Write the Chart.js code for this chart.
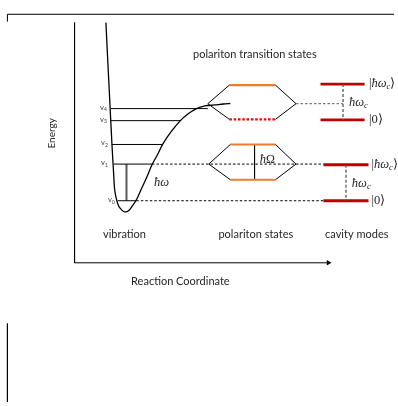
<!DOCTYPE html>
<html>
<head>
<meta charset="utf-8">
<script src="https://cdn.jsdelivr.net/npm/chart.js@4/dist/chart.umd.min.js"></script>
<style>
html,body{margin:0;padding:0;background:#fff;}
canvas{display:block;}
</style>
</head>
<body>
<canvas id="c" width="398" height="406"></canvas>
<script>
// ---- Diagram data (diagram units: x = reaction coordinate, y = energy, top-down) ----
const curveX = [104,106,108,110,112,113,115,117,120,123,127,131,135,140,146,151,157,162,170,180,188,196,205,215,224,231];
const curveY = [19,60,100,140,175,190,200,206,210,212,211,206,200,189,176,164,153,143,131,119,112,107,104,103,102,101.5];

const levelNames = ['0','1','2','3','4'];
const levelY = [200.7, 163.3, 143.3, 119, 106.7];
const levelStartX = [116, 112, 110, 109, 109];
const levelEndX = [135, 151, 162, 180, 208];
const levelLabelX = [113, 106, 106, 105, 105];

// dashed continuation of v0 / v1
const dashV1 = [151, 326];
const dashV0 = [135, 326];

// polariton states (lower hexagon)
const polLow = {left: 209, right: 298, mid: 163.3, x1: 231, x2: 277, up: 143.3, lo: 179.3};
// polariton transition states (upper hexagon)
const polHigh = {left: 208, right: 298, mid: 101.7, x1: 230, x2: 277, up: 82.7, lo: 117.7};
// cavity modes
const cavLow = {x1: 326, x2: 372, up: 164, lo: 200.7, vx: 349};
const cavHigh = {x1: 323, x2: 368, up: 81.7, lo: 118.3, vx: 346};

const axisOrigin = [72, 264];
const axisTopY = 19;
const axisEndX = 331;

const texts = [
  {t: 'polariton transition states', x: 256, y: 51},
  {t: 'vibration', x: 123, y: 235},
  {t: 'polariton states', x: 257, y: 235},
  {t: 'cavity modes', x: 360, y: 235},
  {t: 'Reaction Coordinate', x: 180, y: 283},
];

// ---- helpers ----
const P = (x, y) => ({x, y});
function seg(points, color, width, dash) {
  return {
    data: points, showLine: true, pointRadius: 0, borderColor: color,
    borderWidth: width, borderDash: dash || [], fill: false, tension: 0,
    borderCapStyle: 'butt'
  };
}
const BLACK = '#000';
const ORANGE = '#ED7D31';
const DRED = '#C00000';
const GRAY = '#595959';

const datasets = [];
// frame
datasets.push(seg([P(3.5, 18), P(3.5, 10.5), P(398, 10.5)], BLACK, 1));
datasets.push(seg([P(3.5, 326), P(3.5, 406)], BLACK, 1));
// axes
datasets.push(seg([P(axisOrigin[0], axisTopY), P(axisOrigin[0], axisOrigin[1]), P(axisEndX, axisOrigin[1])], BLACK, 1));
datasets.push({data: [P(axisEndX, axisOrigin[1])], showLine: false, pointStyle: 'triangle', rotation: 90,
  pointRadius: 3.2, backgroundColor: BLACK, borderColor: BLACK, borderWidth: 0});
// potential curve
datasets.push({data: curveX.map((x, i) => P(x, curveY[i])), showLine: true, pointRadius: 0,
  borderColor: BLACK, borderWidth: 1.3, tension: 0.35, fill: false});
// vibrational levels
levelY.forEach((yv, i) => datasets.push(seg([P(levelStartX[i], yv), P(levelEndX[i], yv)], BLACK, 1)));
datasets.push(seg([P(dashV1[0], levelY[1]), P(dashV1[1], levelY[1])], BLACK, 1, [2.5, 2]));
datasets.push(seg([P(dashV0[0], levelY[0]), P(dashV0[1], levelY[0])], BLACK, 1, [2.5, 2]));
// hbar omega arrow
datasets.push(seg([P(125, levelY[1]), P(125, levelY[0])], GRAY, 2));

// hexagons
function hexagon(h) {
  datasets.push(seg([P(h.x1, h.up), P(h.left, h.mid), P(h.x1, h.lo)], BLACK, 1));
  datasets.push(seg([P(h.x2, h.up), P(h.right, h.mid), P(h.x2, h.lo)], BLACK, 1));
}
hexagon(polLow);
hexagon(polHigh);
datasets.push(seg([P(polLow.x1, polLow.up), P(polLow.x2, polLow.up)], ORANGE, 2.2));
datasets.push(seg([P(polLow.x1, polLow.lo), P(polLow.x2, polLow.lo)], ORANGE, 2.2));
datasets.push(seg([P(255.7, polLow.up), P(255.7, polLow.lo)], BLACK, 1));
datasets.push(seg([P(polHigh.x1, polHigh.up), P(polHigh.x2, polHigh.up)], ORANGE, 2.2));
datasets.push(seg([P(polHigh.x1, polHigh.lo), P(polHigh.x2, polHigh.lo)], '#FF0000', 2.2, [2.5, 1.8]));
datasets.push(seg([P(polHigh.right, polHigh.mid), P(cavHigh.vx, polHigh.mid)], GRAY, 1, [2.5, 2]));

// cavity modes
[cavLow, cavHigh].forEach(c => {
  datasets.push(seg([P(c.vx, c.up), P(c.vx, c.lo)], GRAY, 1.3, [3, 2]));
  datasets.push(seg([P(c.x1, c.up), P(c.x2, c.up)], DRED, 2.8));
  datasets.push(seg([P(c.x1, c.lo), P(c.x2, c.lo)], DRED, 2.8));
});

// ---- text plugin ----
const textPlugin = {
  id: 'diagramText',
  afterDatasetsDraw(chart) {
    const {ctx, scales: {x, y}} = chart;
    const px = v => x.getPixelForValue(v), py = v => y.getPixelForValue(v);
    ctx.save();
    ctx.textBaseline = 'middle';
    ctx.fillStyle = '#262626';
    ctx.font = '11px Lato';
    ctx.textAlign = 'center';
    texts.forEach(o => ctx.fillText(o.t, px(o.x), py(o.y)));
    // Energy
    ctx.save();
    ctx.translate(px(49), py(132));
    ctx.rotate(-Math.PI / 2);
    ctx.font = '10px Lato';
    ctx.fillText('Energy', 0, 0);
    ctx.restore();
    // level labels v_n
    ctx.fillStyle = '#404040';
    levelNames.forEach((n, i) => {
      const rx = px(levelLabelX[i]), cy = py(levelY[i]);
      ctx.font = '5px Lato';
      const sw = ctx.measureText(n).width;
      ctx.textAlign = 'right';
      ctx.fillText(n, rx, cy + 1.2);
      ctx.font = '7.5px Lato';
      ctx.fillText('v', rx - sw, cy - 1.5);
    });
    // rich math labels
    const serifI = s => 'italic ' + s + 'px "Liberation Serif"';
    const serif = s => s + 'px "Liberation Serif"';
    function rich(parts, xx, yy) {
      let cx = px(xx);
      const cy = py(yy);
      ctx.textAlign = 'left';
      parts.forEach(p => {
        ctx.font = p.f;
        ctx.fillText(p.t, cx, cy + (p.dy || 0));
        cx += ctx.measureText(p.t).width;
      });
    }
    ctx.fillStyle = '#262626';
    rich([{t: 'ħω', f: serifI(12.5)}], 153, 182);
    rich([{t: 'ħ', f: serifI(12.5)}, {t: 'Ω', f: serif(12)}], 261, 159);
    const hwc = [{t: 'ħω', f: serifI(12.5)}, {t: 'c', f: serifI(8.5), dy: 3}];
    rich(hwc, 355, 183);
    rich(hwc, 352, 100.5);
    const ketHw = [{t: '|', f: serif(12.5)}, {t: 'ħω', f: serifI(12.5)}, {t: 'c', f: serifI(8.5), dy: 3}, {t: '⟩', f: serif(12.5)}];
    const ket0 = [{t: '|0⟩', f: serif(12.5)}];
    rich(ketHw, 375, 163.5);
    rich(ket0, 375, 200.5);
    rich(ketHw, 372.5, 81.5);
    rich(ket0, 372.5, 118.5);
    ctx.restore();
  }
};

new Chart(document.getElementById('c'), {
  type: 'scatter',
  data: {datasets},
  options: {
    responsive: false,
    animation: false,
    devicePixelRatio: 1,
    layout: {padding: 0},
    plugins: {legend: {display: false}, tooltip: {enabled: false}},
    scales: {
      x: {type: 'linear', min: 0, max: 398, display: false},
      y: {type: 'linear', min: 0, max: 406, reverse: true, display: false}
    }
  },
  plugins: [textPlugin]
});
</script>
</body>
</html>
